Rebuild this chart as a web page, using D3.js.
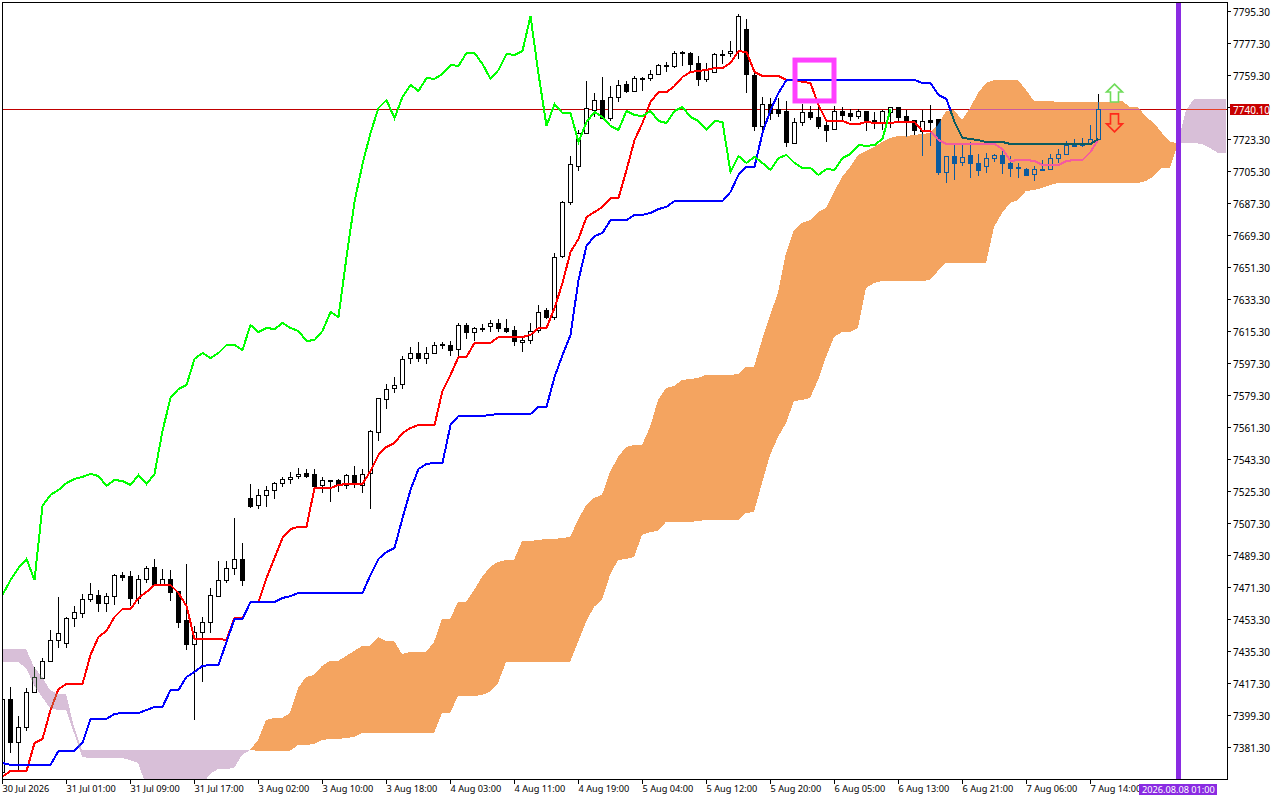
<!DOCTYPE html>
<html>
<head>
<meta charset="utf-8">
<title>Ichimoku H1</title>
<script src="https://cdn.jsdelivr.net/npm/d3@7"></script>
<style>
  html, body { margin: 0; padding: 0; background: #fff; }
  svg { display: block; }
  text { font-family: "Noto Sans", sans-serif; font-size: 9.2px; fill: #000; }
</style>
</head>
<body>
<svg id="chart" width="1280" height="800"></svg>
<script>
const opens = [
  7367.2, 7408.3, 7384.1, 7392.6, 7412.3, 7420.1, 7429.7, 7441.5, 7439.8, 7453.9,
  7456.7, 7464.6, 7466.8, 7462.3, 7466.2, 7478.1, 7477.5, 7465.1, 7475.8, 7482.6,
  7473, 7475.8, 7469.1, 7452.7, 7439.2, 7446, 7451.6, 7466.2, 7475.2, 7482,
  7487.1, 7521.4, 7517.4, 7523.1, 7525.9, 7529.8, 7532.1, 7533.7, 7535.4, 7534.9,
  7528.7, 7531.5, 7531.5, 7528.7, 7534.3, 7528.7, 7535.4, 7558.5, 7577.1, 7583.2,
  7585.5, 7600.1, 7602.9, 7600.1, 7602.9, 7608, 7607.4, 7605.2, 7618.7, 7614.7,
  7617, 7618.1, 7619.8, 7617, 7615.9, 7609.1, 7610.2, 7615.9, 7627.1, 7623.2,
  7657.5, 7687.9, 7708.1, 7726.7, 7739.6, 7745.2, 7735.1, 7746.9, 7754.2, 7750.3,
  7757.6, 7757.6, 7759.9, 7764.9, 7764.4, 7772.2, 7771.7, 7766.1, 7757.1, 7761,
  7771.1, 7771.7, 7772.8, 7785.2, 7759.3, 7730.6, 7743, 7740.2, 7739.1, 7721.1,
  7732.9, 7738.5, 7735.7, 7731.2, 7728.9, 7739.1, 7737.9, 7736.2, 7739.1, 7734,
  7732.9, 7738.5, 7741.3, 7736.2, 7734, 7727.8, 7734, 7734.6, 7704.7, 7713.7,
  7710.4, 7714.3, 7709.8, 7708.1, 7712.6, 7714.3, 7709.8, 7707.6, 7706.4, 7703.6,
  7706.4, 7706.4, 7712.6, 7714.9, 7719.9, 7720.5, 7721.1, 7723.3,
];
const highs = [
  7410.6, 7415.1, 7398.8, 7414.5, 7426.3, 7431.4, 7447.1, 7465.7, 7454.4, 7460.6,
  7467.4, 7473.6, 7469.6, 7467.9, 7478.6, 7479.7, 7480.3, 7478.1, 7483.1, 7487.1,
  7481.4, 7480.9, 7469.1, 7484.2, 7449.4, 7454.4, 7470.7, 7485.9, 7485.9, 7510.1,
  7496.1, 7529.2, 7526.4, 7528.1, 7530.4, 7533.2, 7536, 7538.2, 7537.7, 7537.7,
  7533.2, 7531.5, 7532.1, 7534.9, 7539.4, 7537.7, 7559.6, 7577.6, 7585.5, 7589.4,
  7601.2, 7606.3, 7609.1, 7606.3, 7609.1, 7609.1, 7609.7, 7619.8, 7619.8, 7617.6,
  7619.2, 7621.5, 7622.1, 7622.1, 7618.1, 7611.4, 7619.8, 7629.9, 7628.2, 7659.2,
  7688.4, 7713.7, 7728.4, 7755.9, 7749.2, 7758.2, 7753.1, 7756.5, 7755.9, 7758.7,
  7758.2, 7762.1, 7765.5, 7766.6, 7772.8, 7772.8, 7772.2, 7770, 7766.1, 7771.7,
  7773.4, 7778.4, 7793.6, 7790.8, 7760.4, 7746.9, 7746.4, 7746.4, 7744.7, 7735.1,
  7743, 7741.9, 7741.9, 7734, 7741.9, 7741.3, 7740.2, 7740.2, 7739.1, 7738.5,
  7739.6, 7741.3, 7741.3, 7739.6, 7734, 7739.6, 7742.4, 7734.6, 7713.7, 7719.9,
  7720.5, 7721.6, 7714.9, 7715.4, 7714.9, 7718.2, 7713.7, 7709.8, 7707, 7708.1,
  7711.5, 7714.9, 7717.7, 7722.2, 7723.3, 7723.9, 7731.2, 7748.6,
];
const lows = [
  7365.5, 7377.9, 7368.4, 7390.3, 7412.3, 7419.6, 7429.7, 7437, 7437, 7448.8,
  7453.9, 7462.9, 7457.2, 7457.2, 7461.2, 7474.7, 7460.6, 7461.7, 7473.6, 7471.9,
  7471.9, 7463.4, 7448.2, 7435.9, 7396.5, 7417.9, 7445.4, 7465.7, 7473.6, 7478.1,
  7471.9, 7515.7, 7515.2, 7516.3, 7520.8, 7527.6, 7529.2, 7532.1, 7532.6, 7527,
  7524.2, 7519.1, 7524.7, 7526.4, 7527, 7524.2, 7515.2, 7553.4, 7571.4, 7580.4,
  7582.7, 7596.7, 7597.9, 7596.7, 7602.9, 7605.2, 7601.2, 7600.1, 7610.8, 7609.7,
  7614.7, 7614.7, 7614.7, 7614.2, 7606.9, 7603.5, 7608, 7614.2, 7622.1, 7621.5,
  7656.4, 7686.2, 7705.3, 7726.7, 7735.7, 7734.6, 7733.4, 7744.1, 7749.2, 7750.3,
  7750.3, 7755.9, 7759.3, 7761, 7763.2, 7764.4, 7761, 7753.1, 7755.4, 7760.4,
  7765.5, 7769.4, 7768.3, 7749.2, 7727.8, 7726.1, 7734, 7735.7, 7718.8, 7720.5,
  7730.6, 7734, 7728.9, 7721.6, 7728.9, 7733.4, 7733.4, 7734.6, 7727.8, 7728.9,
  7728.4, 7729.5, 7732.9, 7724.4, 7725.6, 7713.7, 7719.4, 7703.1, 7698.6, 7700.2,
  7708.1, 7701.4, 7702.5, 7704.2, 7710.4, 7703.6, 7701.9, 7701.4, 7702.5, 7699.7,
  7705.3, 7706.4, 7709.8, 7714.9, 7718.8, 7718.8, 7720.5, 7722.7,
];
const closes = [
  7408.3, 7384.1, 7392.6, 7412.3, 7420.7, 7429.7, 7441.5, 7445.4, 7453.9, 7457.2,
  7464.6, 7467.4, 7462.3, 7466.2, 7478.1, 7476.9, 7465.1, 7475.8, 7482, 7473,
  7475.8, 7468.5, 7451.6, 7439.2, 7446, 7451.6, 7466.8, 7475.2, 7482, 7487.1,
  7475.2, 7516.9, 7523.1, 7525.9, 7529.8, 7532.1, 7533.2, 7534.9, 7533.7, 7528.1,
  7531.5, 7530.9, 7528.7, 7534.3, 7529.2, 7534.9, 7559.1, 7577.6, 7582.7, 7584.9,
  7599.6, 7602.9, 7600.1, 7602.9, 7607.4, 7607.4, 7604.6, 7618.7, 7614.7, 7617,
  7616.4, 7619.8, 7617, 7615.3, 7609.7, 7610.2, 7615.3, 7626, 7623.2, 7656.9,
  7687.9, 7709.2, 7726.7, 7740.7, 7745.2, 7735.1, 7746.9, 7753.7, 7750.3, 7757.6,
  7757.1, 7759.9, 7764.9, 7764.4, 7771.7, 7771.7, 7765.5, 7757.1, 7762.1, 7771.1,
  7770.6, 7772.8, 7792.5, 7759.9, 7730.6, 7743, 7737.9, 7737.9, 7721.6, 7732.9,
  7738.5, 7735.7, 7730.6, 7728.4, 7739.1, 7736.8, 7736.2, 7739.1, 7733.4, 7732.3,
  7739.1, 7741.3, 7735.7, 7733.4, 7728.4, 7733.4, 7732.9, 7704.7, 7713.7, 7709.8,
  7713.2, 7709.8, 7705.9, 7712.6, 7714.3, 7709.8, 7707, 7707, 7703.1, 7706.4,
  7705.9, 7712.6, 7714.9, 7719.9, 7719.4, 7719.9, 7723.3, 7740.1,
];
const tenkan = [
  7364.6, 7367.8, 7367.8, 7367.8, 7383.6, 7385.8, 7402.1, 7413.9, 7416.7, 7416.7,
  7416.7, 7433.1, 7443.2, 7446.6, 7454.4, 7458.9, 7458.9, 7465.1, 7468.5, 7472.4,
  7472.4, 7472.4, 7467.9, 7460.6, 7442.1, 7442.1, 7442.1, 7442.1, 7441.5, 7453.9,
  7453.9, 7462.9, 7462.9, 7476.4, 7487.6, 7498.9, 7503.9, 7505.1, 7505.1, 7527,
  7527, 7527, 7528.7, 7529.2, 7529.2, 7529.2, 7536.6, 7545.6, 7550.1, 7552.3,
  7557.9, 7560.7, 7562.4, 7562.4, 7562.4, 7581.6, 7590.6, 7600.7, 7600.7, 7608.6,
  7608.6, 7608.6, 7611.9, 7611.9, 7611.9, 7611.9, 7613.1, 7617, 7617, 7628.2,
  7642.3, 7659.7, 7667.1, 7679.4, 7682.2, 7685.1, 7690.1, 7690.1, 7705.9, 7722.7,
  7732.3, 7744.1, 7749.7, 7749.7, 7753.1, 7758.2, 7761, 7761.6, 7762.1, 7763.2,
  7763.2, 7766.1, 7772.8, 7772.2, 7761, 7758.7, 7758.7, 7758.7, 7756.5, 7756.5,
  7755.4, 7754.8, 7742.4, 7733.4, 7733.4, 7733.4, 7731.7, 7731.7, 7732.9, 7732.3,
  7732.3, 7732.3, 7732.9, 7732.9, 7732.9, 7727.8, 7727.8, 7722.7, 7720.5, 7720.5,
  7720.5, 7720.5, 7720.5, 7720.5, 7720.5, 7717.7, 7710.9, 7711.5, 7711.5, 7710.9,
  7708.7, 7708.7, 7708.7, 7710.9, 7711.5, 7711.5, 7716, 7723.3,
];
const kijun = [
  7372.3, 7371.2, 7371.2, 7371.2, 7371.2, 7371.2, 7371.2, 7379.1, 7379.1, 7379.1,
  7383.6, 7397.1, 7397.1, 7397.1, 7399.9, 7400.4, 7400.4, 7400.4, 7402.1, 7403.8,
  7403.8, 7413.4, 7413.4, 7420.7, 7423.5, 7426.9, 7427.4, 7427.4, 7440.4, 7453.3,
  7453.3, 7462.9, 7462.9, 7462.9, 7462.9, 7465.1, 7466.2, 7467.9, 7467.9, 7467.9,
  7467.9, 7467.9, 7467.9, 7467.9, 7467.9, 7467.9, 7478.1, 7487.1, 7491, 7493.2,
  7510.1, 7525.9, 7537.7, 7540.5, 7541.1, 7541.1, 7562.4, 7567.5, 7567.5, 7567.5,
  7567.5, 7568.1, 7568.6, 7568.6, 7568.6, 7568.6, 7568.6, 7572.6, 7572.6, 7589.4,
  7601.8, 7613.1, 7644, 7663.1, 7668.7, 7670.4, 7677.7, 7677.7, 7677.7, 7680.6,
  7680.6, 7681.7, 7683.9, 7685.1, 7688.4, 7688.4, 7688.4, 7688.4, 7688.4, 7688.4,
  7688.4, 7693.5, 7703.1, 7707.6, 7707.6, 7726.7, 7739.6, 7749.2, 7756.5, 7756.5,
  7756.5, 7756.5, 7756.5, 7756.5, 7756.5, 7756.5, 7756.5, 7756.5, 7756.5, 7756.5,
  7756.5, 7756.5, 7756.5, 7756.5, 7756.5, 7754.8, 7754.8, 7748.1, 7745.8, 7732.9,
  7723.9, 7723.3, 7722.7, 7721.6, 7721.6, 7721.6, 7720.5, 7720.5, 7720.5, 7720.5,
  7720.5, 7720.5, 7720.5, 7720.5, 7720.5, 7720.5, 7720.5, 7723.3,
];
// chikou span is the close plotted 26 bars back
const chikou = closes.slice(26);

const spanA = [
  7429.1, 7429.1, 7429.1, 7425.7, 7416.2, 7409.4, 7403.2, 7402.1, 7402.1, 7389.2,
  7375.7, 7375.1, 7375.1, 7375.1, 7375.1, 7375.1, 7374, 7372.3, 7359.9, 7359.9,
  7359.9, 7359.9, 7359.9, 7359.9, 7359.9, 7359.9, 7366.1, 7368.9, 7368.9, 7369.5,
  7376.8, 7379.6, 7385.2, 7396.5, 7397.6, 7397.6, 7400.4, 7414.5, 7420.7, 7421.8,
  7426.9, 7429.7, 7429.7, 7432.5, 7435.3, 7438.1, 7438.1, 7443.2, 7440.9, 7440.9,
  7433.6, 7434.7, 7434.7, 7434.7, 7440.4, 7453.3, 7453.3, 7462.9, 7462.9, 7469.6,
  7476.9, 7482.6, 7485.4, 7486.5, 7486.5, 7497.2, 7497.2, 7497.7, 7498.3, 7498.3,
  7498.9, 7499.4, 7509, 7517.4, 7521.4, 7523.1, 7536, 7544.4, 7550.1, 7551.2,
  7551.2, 7561.3, 7576.5, 7583.2, 7584.4, 7587.7, 7588.3, 7588.9, 7590.6, 7590.6,
  7590.6, 7590.6, 7591.1, 7595.1, 7595.1, 7610.2, 7624.3, 7636.7, 7659.2, 7672.1,
  7676.1, 7677.7, 7682.2, 7684.5, 7693.5, 7701.9, 7707.6, 7714.3, 7716.6, 7718.8,
  7721.6, 7723.9, 7725, 7725, 7725.6, 7726.1, 7726.7, 7731.2, 7739.1, 7739.6,
  7734, 7740.7, 7749.2, 7754.8, 7756.5, 7756.5, 7756.5, 7756.5, 7750.9, 7744.7,
  7744.7, 7744.7, 7744.1, 7744.1, 7744.1, 7744.1, 7744.1, 7744.1, 7744.1, 7744.1,
  7744.7, 7741.3, 7741.3, 7735.7, 7732.3, 7726.7, 7721.6, 7721.1, 7721.1, 7721.1,
  7720.5, 7718.2, 7715.4, 7715.4,
];
const spanB = [
  7436.4, 7436.4, 7436.4, 7436.4, 7426.3, 7420.7, 7413.4, 7411.1, 7411.1, 7392.6,
  7379.6, 7379.6, 7379.6, 7379.6, 7379.6, 7379.6, 7379.6, 7379.6, 7379.6, 7379.6,
  7379.6, 7379.6, 7379.6, 7379.6, 7379.6, 7379.6, 7379.6, 7379.6, 7379.6, 7379.6,
  7379.6, 7379.6, 7379.2, 7379.2, 7379.2, 7379.2, 7379.2, 7382.4, 7382.4, 7383,
  7385.2, 7385.8, 7385.8, 7386.4, 7386.9, 7389.2, 7389.2, 7389.2, 7389.2, 7389.2,
  7389.2, 7389.2, 7389.2, 7389.2, 7389.2, 7400.4, 7400.4, 7410, 7410, 7410,
  7410.6, 7412.3, 7417.3, 7429.1, 7429.1, 7429.1, 7429.1, 7429.1, 7429.1, 7429.1,
  7429.1, 7429.1, 7440.4, 7451.6, 7460.1, 7464, 7478.1, 7486.5, 7487.1, 7488.2,
  7500.6, 7502.2, 7502.8, 7507.9, 7507.9, 7507.9, 7507.9, 7508.4, 7509, 7509,
  7509, 7509, 7509, 7512.9, 7513.5, 7529.8, 7545.6, 7555.7, 7563.6, 7575.9,
  7576.5, 7577.6, 7587.7, 7600.7, 7611.9, 7614.7, 7614.7, 7617, 7639.5, 7642.3,
  7643.4, 7643.4, 7643.4, 7643.4, 7643.4, 7643.4, 7644, 7649.1, 7653.6, 7653.6,
  7653.6, 7653.6, 7653.6, 7653.6, 7673.8, 7681.7, 7687.3, 7689, 7694.1, 7694.6,
  7695.7, 7697.4, 7698.6, 7698.6, 7698.6, 7698.6, 7698.6, 7698.6, 7698.6, 7698.6,
  7698.6, 7698.6, 7698.6, 7699.7, 7702.5, 7707, 7707, 7721.1, 7739.6, 7745.8,
  7745.8, 7745.8, 7745.8, 7745.8,
];

const priceTicks = [
  7381.3, 7399.3, 7417.3, 7435.3, 7453.3, 7471.3, 7489.3, 7507.3, 7525.3, 7543.3, 7561.3, 7579.3,
  7597.3, 7615.3, 7633.3, 7651.3, 7669.3, 7687.3, 7705.3, 7723.3, 7741.3, 7759.3, 7777.3, 7795.3,
];
const timeTickBars = [0, 8, 16, 24, 32, 40, 48, 56, 64, 72, 80, 88, 96, 104, 112, 120, 128, 136];
const timeLabels = [
  '30 Jul 2026', '31 Jul 01:00', '31 Jul 09:00', '31 Jul 17:00', '3 Aug 02:00', '3 Aug 10:00',
  '3 Aug 18:00', '4 Aug 03:00', '4 Aug 11:00', '4 Aug 19:00', '5 Aug 04:00', '5 Aug 12:00',
  '5 Aug 20:00', '6 Aug 05:00', '6 Aug 13:00', '6 Aug 21:00', '7 Aug 06:00', '7 Aug 14:00',
];
const lastPrice = 7740.1;
const markerBar = 147;
const markerLabel = '2026.08.08 01:00';
const boxBars = [99.125, 104];
const boxPrices = [7767.7, 7744.7];
const arrowBar = 139;
const arrowUpPrice = 7754.2;
const arrowDownPrice = 7727.3;

const BLACK = 0x000000, WHITE = 0xffffff, RED = 0xff0000, BLUE = 0x0000ff, GREEN = 0x00ff00;
const PRICE_LINE = 0xc00000;
const ORANGE = 0xf4a460, THISTLE = 0xd8bfd8;

const hex = (n) => '#' + n.toString(16).padStart(6, '0');
// the terminal paints over the cloud with xor, so colours flip inside it
const plain = (c) => hex(c);
const overCloud = (cloud) => (c) => hex(c ^ WHITE ^ cloud);

const plot = { left: 2, right: 1227, top: 2, bottom: 779 };

const x = d3.scaleLinear().domain([0, 153]).range([2, 1226]);
const y = d3.scaleLinear().domain([7381.3, 7795.3]).range([747, 11]);

const svg = d3.select('#chart');
const defs = svg.append('defs');
defs.append('clipPath').attr('id', 'plot-clip').append('rect')
  .attr('x', plot.left).attr('y', plot.top)
  .attr('width', plot.right - plot.left).attr('height', plot.bottom - plot.top);

const bars = spanA.map((_, i) => i);
const kumoArea = (isOn) => d3.area()
  .defined(isOn)
  .x((i) => x(i))
  .y0((i) => y(spanA[i]))
  .y1((i) => y(spanB[i]))(bars);

const orangePath = kumoArea((i) => spanA[i] >= spanB[i]);
const thistlePath = kumoArea((i) => spanA[i] <= spanB[i]);

defs.append('clipPath').attr('id', 'orange-clip').append('path')
  .attr('d', orangePath).attr('shape-rendering', 'crispEdges');
defs.append('clipPath').attr('id', 'thistle-clip').append('path')
  .attr('d', thistlePath).attr('shape-rendering', 'crispEdges');

const chart = svg.append('g').attr('clip-path', 'url(#plot-clip)');

chart.append('path').attr('d', orangePath).attr('fill', hex(ORANGE)).attr('shape-rendering', 'crispEdges');
chart.append('path').attr('d', thistlePath).attr('fill', hex(THISTLE)).attr('shape-rendering', 'crispEdges');

function drawMarks(parent, paint) {
  const g = parent.append('g').attr('shape-rendering', 'crispEdges');

  g.append('line')
    .attr('x1', plot.left).attr('x2', plot.right)
    .attr('y1', Math.round(y(lastPrice)) + 0.5).attr('y2', Math.round(y(lastPrice)) + 0.5)
    .attr('stroke', paint(PRICE_LINE));

  const candles = g.selectAll('g.candle').data(opens.map((_, i) => i)).enter().append('g').attr('class', 'candle');

  candles.append('rect')
    .attr('x', (i) => x(i))
    .attr('y', (i) => Math.round(y(highs[i])))
    .attr('width', 1)
    .attr('height', (i) => Math.max(1, Math.round(y(lows[i])) - Math.round(y(highs[i]))))
    .attr('fill', paint(BLACK));

  candles.append('rect')
    .attr('x', (i) => x(i) - 1.5)
    .attr('y', (i) => Math.round(y(Math.max(opens[i], closes[i]))) + 0.5)
    .attr('width', 4)
    .attr('height', (i) => Math.max(1, Math.round(y(Math.min(opens[i], closes[i]))) - Math.round(y(Math.max(opens[i], closes[i])))))
    .attr('fill', (i) => paint(closes[i] >= opens[i] ? WHITE : BLACK))
    .attr('stroke', paint(BLACK));

  const seriesLine = d3.line().x((_, i) => x(i) + 0.5).y((d) => y(d));
  [[tenkan, RED], [kijun, BLUE], [chikou, GREEN]].forEach(([values, color]) => {
    g.append('path')
      .attr('d', seriesLine(values))
      .attr('fill', 'none')
      .attr('stroke', paint(color))
      .attr('stroke-width', 2);
  });
}

drawMarks(chart, plain);
drawMarks(chart.append('g').attr('clip-path', 'url(#orange-clip)'), overCloud(ORANGE));
drawMarks(chart.append('g').attr('clip-path', 'url(#thistle-clip)'), overCloud(THISTLE));

// hollow arrows next to the last bar
const arrowShape = (dir) => {
  // offsets from the arrow tip, dir -1 points up, 1 points down
  const pts = [[0, 0], [8, 8], [4, 8], [4, 18], [-4, 18], [-4, 8], [-8, 8]];
  return d3.line()(pts.map(([dx, dy]) => [dx, -dir * dy])) + 'Z';
};
chart.append('path')
  .attr('transform', `translate(${x(arrowBar) + 0.5},${y(arrowUpPrice)})`)
  .attr('d', arrowShape(-1))
  .attr('fill', 'none').attr('stroke', '#6fdc5a').attr('stroke-width', 1.6);
chart.append('path')
  .attr('transform', `translate(${x(arrowBar) + 0.5},${y(arrowDownPrice)})`)
  .attr('d', arrowShape(1))
  .attr('fill', 'none').attr('stroke', '#ff2a1a').attr('stroke-width', 1.6);

chart.append('rect')
  .attr('x', x(boxBars[0])).attr('y', y(boxPrices[0]))
  .attr('width', x(boxBars[1]) - x(boxBars[0])).attr('height', y(boxPrices[1]) - y(boxPrices[0]))
  .attr('fill', 'none').attr('stroke', '#ff40ff').attr('stroke-width', 5);

chart.append('rect')
  .attr('x', x(markerBar) - 2).attr('y', plot.top)
  .attr('width', 5).attr('height', plot.bottom - plot.top)
  .attr('fill', '#8a2be2');

// frame and axes
svg.append('rect')
  .attr('x', plot.left + 0.5).attr('y', plot.top + 0.5)
  .attr('width', plot.right - plot.left).attr('height', plot.bottom - plot.top)
  .attr('fill', 'none').attr('stroke', '#000');

const yAxis = d3.axisRight(y).tickValues(priceTicks).tickSize(4).tickPadding(2)
  .tickFormat(d3.format('.2f'));
const yAxisG = svg.append('g').attr('transform', `translate(${plot.right},0)`).call(yAxis);
yAxisG.select('.domain').remove();
yAxisG.selectAll('text').attr('dy', '0.42em')
  .style('font-family', '"Noto Sans", sans-serif').style('font-size', '10px');

const xAxis = d3.axisBottom(x).tickValues(timeTickBars).tickSize(5).tickPadding(2)
  .tickFormat((_, i) => timeLabels[i]);
const xAxisG = svg.append('g').attr('transform', `translate(0,${plot.bottom})`).call(xAxis);
xAxisG.select('.domain').remove();
xAxisG.selectAll('text').attr('text-anchor', 'start').attr('dy', '0.7em')
  .style('font-family', '"Noto Sans", sans-serif').style('font-size', '9.2px');

// price tag on the axis
svg.append('rect')
  .attr('x', 1230).attr('y', Math.round(y(lastPrice)) - 5)
  .attr('width', 39).attr('height', 11)
  .attr('fill', '#c80000');
svg.append('text')
  .attr('x', 1233).attr('y', Math.round(y(lastPrice)) + 0.5).attr('dy', '0.42em')
  .style('fill', '#fff').style('font-size', '10px').text(d3.format('.2f')(lastPrice));

// time tag for the vertical marker
svg.append('rect')
  .attr('x', 1139).attr('y', 784)
  .attr('width', 78).attr('height', 11)
  .attr('fill', '#8a2be2');
svg.append('text')
  .attr('x', 1142).attr('y', 789.5).attr('dy', '0.4em')
  .style('fill', '#fff').text(markerLabel);
</script>
</body>
</html>
